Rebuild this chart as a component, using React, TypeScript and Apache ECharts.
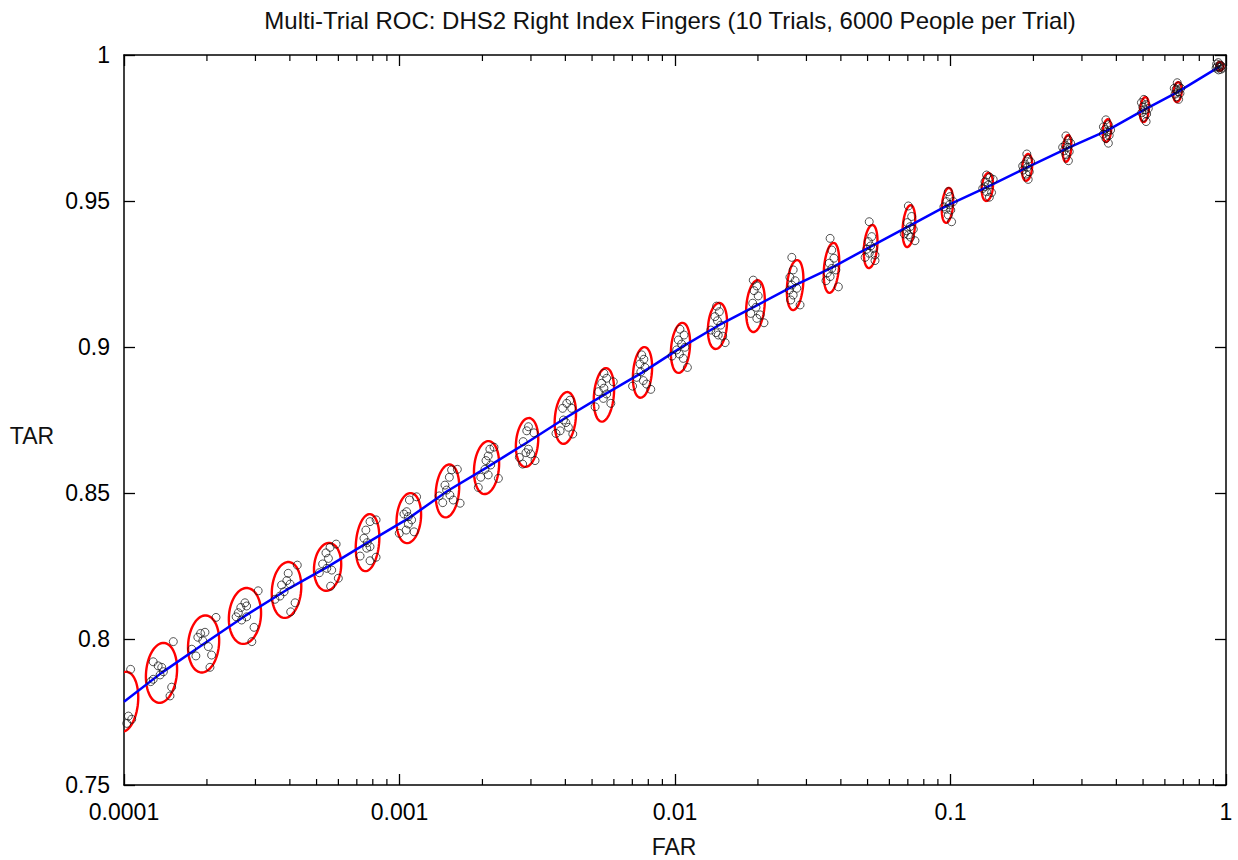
import React, { useEffect, useRef } from "react";
import * as echarts from "echarts";

const chartTitle = "Multi-Trial ROC: DHS2 Right Index Fingers (10 Trials, 6000 People per Trial)";
const xAxisName = "FAR";
const yAxisName = "TAR";
const xTickLabels = ["0.0001", "0.001", "0.01", "0.1", "1"];
const yTickLabels = ["0.75", "0.8", "0.85", "0.9", "0.95", "1"];

// mean operating point per threshold level (ellipse centre, blue ROC)
const meanFar = [0.0001, 0.0001368, 0.0001945, 0.0002748, 0.000389, 0.0005483, 0.0007656, 0.001081, 0.001493, 0.00207,
  0.002904, 0.003999, 0.005521, 0.007621, 0.01047, 0.01426, 0.01959, 0.02729, 0.03698, 0.05129,
  0.07063, 0.0975, 0.1361, 0.1897, 0.2649, 0.3698, 0.5058, 0.6668, 0.9506];
const meanTar = [0.7785, 0.7884, 0.7983, 0.8079, 0.8168, 0.8247, 0.833, 0.8414, 0.8507, 0.8587,
  0.8673, 0.8757, 0.8836, 0.8913, 0.8997, 0.9072, 0.914, 0.9212, 0.9271, 0.9344,
  0.9414, 0.9485, 0.9548, 0.9615, 0.968, 0.9741, 0.9813, 0.9873, 0.9961];
// ellipse half axes: FAR in decades, TAR in rate units
const ellipseHalfWidthDecades = [0.051, 0.056, 0.056, 0.058, 0.053, 0.049, 0.042, 0.044, 0.042, 0.045,
  0.04, 0.038, 0.036, 0.034, 0.034, 0.034, 0.033, 0.029, 0.027, 0.024,
  0.022, 0.02, 0.02, 0.018, 0.015, 0.015, 0.016, 0.015, 0.013];
const ellipseHalfHeightTar = [0.0103, 0.0103, 0.0098, 0.0096, 0.0096, 0.0082, 0.0098, 0.0086, 0.0091, 0.0091,
  0.0084, 0.0089, 0.0092, 0.0087, 0.0086, 0.0079, 0.0089, 0.0086, 0.0086, 0.0074,
  0.0072, 0.006, 0.0048, 0.0046, 0.0046, 0.0039, 0.0043, 0.0034, 0.0015];

// individual trial points (10 trials per level): log10(FAR) and TAR
const trialLog10Far: number[][] = [
  [-3.976, -3.99, -3.972, -3.984, -4.022, -4.015, -4.033, -4.011, -4.025, -4.044],
  [-3.894, -3.876, -3.863, -3.857, -3.869, -3.894, -3.903, -3.827, -3.833, -3.821],
  [-3.722, -3.706, -3.732, -3.714, -3.754, -3.739, -3.694, -3.682, -3.688, -3.666],
  [-3.561, -3.576, -3.555, -3.585, -3.593, -3.555, -3.573, -3.528, -3.536, -3.513],
  [-3.404, -3.409, -3.428, -3.397, -3.434, -3.452, -3.379, -3.395, -3.371, -3.419],
  [-3.252, -3.267, -3.258, -3.279, -3.264, -3.246, -3.291, -3.222, -3.25, -3.23],
  [-3.107, -3.122, -3.085, -3.129, -3.117, -3.107, -3.143, -3.107, -3.085, -3.119],
  [-2.964, -2.938, -2.974, -2.984, -2.968, -2.968, -2.947, -3.001, -2.976, -2.956],
  [-2.811, -2.819, -2.835, -2.829, -2.817, -2.805, -2.843, -2.78, -2.79, -2.856],
  [-2.672, -2.678, -2.686, -2.669, -2.69, -2.678, -2.714, -2.641, -2.705, -2.657],
  [-2.532, -2.538, -2.512, -2.551, -2.532, -2.541, -2.524, -2.565, -2.508, -2.553],
  [-2.393, -2.381, -2.408, -2.375, -2.405, -2.396, -2.417, -2.432, -2.371, -2.387],
  [-2.258, -2.248, -2.266, -2.258, -2.278, -2.248, -2.26, -2.29, -2.233, -2.224],
  [-2.121, -2.113, -2.127, -2.109, -2.124, -2.139, -2.115, -2.154, -2.088, -2.103],
  [-1.982, -1.967, -1.988, -1.976, -1.964, -1.994, -1.984, -1.97, -2.011, -1.955],
  [-1.849, -1.839, -1.855, -1.846, -1.834, -1.87, -1.851, -1.827, -1.818, -1.843],
  [-1.716, -1.703, -1.713, -1.698, -1.718, -1.706, -1.725, -1.691, -1.703, -1.677],
  [-1.576, -1.571, -1.583, -1.564, -1.576, -1.585, -1.558, -1.571, -1.546, -1.58],
  [-1.437, -1.431, -1.423, -1.44, -1.431, -1.447, -1.416, -1.437, -1.407, -1.452],
  [-1.295, -1.286, -1.298, -1.29, -1.304, -1.28, -1.295, -1.274, -1.274, -1.31],
  [-1.153, -1.141, -1.157, -1.147, -1.159, -1.135, -1.153, -1.168, -1.129, -1.145],
  [-1.008, -1.002, -1.014, -1.004, -1.016, -0.999, -1.008, -0.996, -1.024, -0.99],
  [-0.869, -0.857, -0.875, -0.863, -0.883, -0.869, -0.851, -0.859, -0.875, -0.845],
  [-0.723, -0.718, -0.73, -0.721, -0.736, -0.714, -0.726, -0.718, -0.738, -0.709],
  [-0.581, -0.572, -0.584, -0.575, -0.588, -0.569, -0.581, -0.572, -0.593, -0.564],
  [-0.436, -0.427, -0.439, -0.431, -0.445, -0.424, -0.436, -0.427, -0.445, -0.419],
  [-0.298, -0.29, -0.302, -0.294, -0.306, -0.288, -0.298, -0.29, -0.307, -0.282],
  [-0.177, -0.172, -0.181, -0.174, -0.185, -0.167, -0.179, -0.172, -0.188, -0.164],
  [-0.028, -0.022, -0.032, -0.024, -0.016, -0.034, -0.019, -0.027, -0.012, -0.036],
];
const trialTar: number[][] = [
  [0.7896, 0.7711, 0.7725, 0.7736, 0.786, 0.7818, 0.7791, 0.7764, 0.775, 0.7695],
  [0.7922, 0.7908, 0.7903, 0.7888, 0.7877, 0.7862, 0.7854, 0.7835, 0.7805, 0.7991],
  [0.8019, 0.8023, 0.8006, 0.7994, 0.7965, 0.7942, 0.7974, 0.7945, 0.7903, 0.8074],
  [0.8124, 0.8108, 0.8113, 0.809, 0.8076, 0.8076, 0.8065, 0.804, 0.7991, 0.8165],
  [0.8225, 0.82, 0.8185, 0.8188, 0.8147, 0.8136, 0.8124, 0.8093, 0.8253, 0.8162],
  [0.8314, 0.8295, 0.8276, 0.8257, 0.8242, 0.8236, 0.8227, 0.8208, 0.8181, 0.8325],
  [0.8402, 0.8373, 0.8408, 0.8345, 0.833, 0.8316, 0.8284, 0.8268, 0.828, 0.8311],
  [0.8476, 0.8487, 0.8436, 0.8428, 0.8419, 0.8394, 0.8367, 0.8362, 0.8373, 0.8408],
  [0.8579, 0.8554, 0.8527, 0.851, 0.8493, 0.8476, 0.8467, 0.8465, 0.8581, 0.849],
  [0.865, 0.8627, 0.8611, 0.8596, 0.8581, 0.8562, 0.8519, 0.855, 0.8554, 0.8657],
  [0.8727, 0.8713, 0.8706, 0.8676, 0.865, 0.8638, 0.8634, 0.8622, 0.8611, 0.8599],
  [0.8807, 0.8818, 0.879, 0.879, 0.875, 0.8741, 0.8713, 0.8704, 0.8702, 0.8725],
  [0.891, 0.8893, 0.8876, 0.8859, 0.8847, 0.8839, 0.8824, 0.8795, 0.8807, 0.8881],
  [0.8973, 0.8958, 0.8942, 0.893, 0.8915, 0.8896, 0.8885, 0.8866, 0.8855, 0.8873],
  [0.9061, 0.9041, 0.9024, 0.901, 0.8999, 0.899, 0.8976, 0.8961, 0.8969, 0.893],
  [0.914, 0.9121, 0.9104, 0.909, 0.9075, 0.9058, 0.9049, 0.9037, 0.9015, 0.9041],
  [0.9229, 0.9209, 0.9193, 0.9175, 0.915, 0.9136, 0.9115, 0.911, 0.9098, 0.9083],
  [0.9307, 0.9264, 0.9239, 0.9227, 0.9212, 0.9195, 0.9201, 0.9178, 0.9144, 0.9161],
  [0.9372, 0.9332, 0.9304, 0.9287, 0.9269, 0.9254, 0.9264, 0.9241, 0.9206, 0.9227],
  [0.9429, 0.9378, 0.9361, 0.9346, 0.9335, 0.9337, 0.9321, 0.9315, 0.9296, 0.9307],
  [0.9483, 0.9447, 0.9426, 0.9412, 0.9398, 0.9403, 0.9384, 0.9387, 0.9364, 0.9376],
  [0.9532, 0.9515, 0.9498, 0.9487, 0.9472, 0.9469, 0.9452, 0.9429, 0.948, 0.9498],
  [0.9589, 0.9581, 0.9566, 0.9555, 0.9543, 0.9532, 0.9529, 0.9513, 0.9549, 0.9574],
  [0.9661, 0.9643, 0.9627, 0.9615, 0.9606, 0.96, 0.9592, 0.9574, 0.962, 0.9634],
  [0.9723, 0.9709, 0.9692, 0.9684, 0.9672, 0.9669, 0.9658, 0.9638, 0.9684, 0.9698],
  [0.9778, 0.9761, 0.9745, 0.9737, 0.9729, 0.9725, 0.9714, 0.9698, 0.9754, 0.9743],
  [0.9848, 0.983, 0.9822, 0.9812, 0.9802, 0.9798, 0.9787, 0.9772, 0.9837, 0.9817],
  [0.9905, 0.9894, 0.9883, 0.9874, 0.9866, 0.9869, 0.9857, 0.9848, 0.9886, 0.9886],
  [0.9974, 0.9966, 0.996, 0.9958, 0.9962, 0.9969, 0.9951, 0.9949, 0.9955, 0.9955],
];

const minorTickFar = [
  0.0002, 0.0003, 0.0004, 0.0005, 0.0006, 0.0007, 0.0008, 0.0009,
  0.002, 0.003, 0.004, 0.005, 0.006, 0.007, 0.008, 0.009,
  0.02, 0.03, 0.04, 0.05, 0.06, 0.07, 0.08, 0.09,
  0.2, 0.3, 0.4, 0.5, 0.6, 0.7, 0.8, 0.9,
];

const FONT = "'Liberation Sans', Arial, Helvetica, sans-serif";

export default function App() {
  const ref = useRef<HTMLDivElement>(null);

  useEffect(() => {
    if (!ref.current) return;
    const chart = echarts.init(ref.current, undefined, { renderer: "svg" });

    const ellipseData = meanFar.map((f, i) => [f, meanTar[i], ellipseHalfWidthDecades[i], ellipseHalfHeightTar[i]]);
    const lineData = meanFar.map((f, i) => [f, meanTar[i]]);
    const pointData: number[][] = [];
    trialLog10Far.forEach((row, i) => {
      row.forEach((lf, j) => pointData.push([Math.pow(10, lf), trialTar[i][j]]));
    });

    const axisLine = { show: true, onZero: false, lineStyle: { color: "#000", width: 1.5 } };
    const xLabelFmt = (v: number) => {
      const e = Math.round(Math.log10(v));
      return xTickLabels[e + 4] ?? "";
    };
    const yLabelFmt = (v: number) => {
      const i = Math.round((v - 0.75) / 0.05);
      return yTickLabels[i] ?? "";
    };

    const option: any = {
      animation: false,
      backgroundColor: "#fff",
      textStyle: { fontFamily: FONT },
      grid: { left: 124, right: 12, top: 55, bottom: 75, containLabel: false },
      xAxis: [
        {
          type: "log", logBase: 10, min: 0.0001, max: 1, position: "bottom",
          axisLine,
          axisTick: { show: true, inside: true, length: 11, lineStyle: { color: "#000", width: 1.3 } },
          axisLabel: { show: true, formatter: xLabelFmt, fontSize: 23, color: "#000", margin: 15, fontFamily: FONT },
          splitLine: { show: false },
        },
        {
          type: "log", logBase: 10, min: 0.0001, max: 1, position: "top",
          axisLine,
          axisTick: { show: true, inside: true, length: 11, lineStyle: { color: "#000", width: 1.3 } },
          axisLabel: { show: false },
          splitLine: { show: false },
        },
      ],
      yAxis: [
        {
          type: "value", min: 0.75, max: 1, interval: 0.05, position: "left",
          axisLine,
          axisTick: { show: true, inside: true, length: 11, lineStyle: { color: "#000", width: 1.3 } },
          axisLabel: { show: true, formatter: yLabelFmt, fontSize: 23, color: "#000", margin: 14, fontFamily: FONT },
          splitLine: { show: false },
        },
        {
          type: "value", min: 0.75, max: 1, interval: 0.05, position: "right",
          axisLine,
          axisTick: { show: true, inside: true, length: 11, lineStyle: { color: "#000", width: 1.3 } },
          axisLabel: { show: false },
          splitLine: { show: false },
        },
      ],
      graphic: [
        { type: "text", x: 670, y: 20, style: { text: chartTitle, fontSize: 24, fill: "#111", fontFamily: FONT, align: "center", verticalAlign: "middle" } },
        { type: "text", x: 674, y: 847, style: { text: xAxisName, fontSize: 23, fill: "#111", fontFamily: FONT, align: "center", verticalAlign: "middle" } },
        { type: "text", x: 32, y: 436, style: { text: yAxisName, fontSize: 23, fill: "#111", fontFamily: FONT, align: "center", verticalAlign: "middle" } },
      ],
      series: [
        {
          type: "custom",
          name: "minor ticks",
          xAxisIndex: 0, yAxisIndex: 0,
          silent: true,
          data: minorTickFar.map((v) => [v, 0.75]),
          renderItem: (params: any, api: any) => {
            const cs = params.coordSys;
            const p = api.coord([api.value(0), api.value(1)]);
            const st = { stroke: "#000", lineWidth: 1.2 };
            return {
              type: "group",
              children: [
                { type: "line", shape: { x1: p[0], y1: cs.y + cs.height, x2: p[0], y2: cs.y + cs.height - 6 }, style: st },
                { type: "line", shape: { x1: p[0], y1: cs.y, x2: p[0], y2: cs.y + 6 }, style: st },
              ],
            };
          },
          z: 5,
        },
        {
          type: "custom",
          name: "confidence ellipses",
          xAxisIndex: 0, yAxisIndex: 0,
          clip: true,
          silent: true,
          data: ellipseData,
          renderItem: (params: any, api: any) => {
            const f = api.value(0), t = api.value(1), w = api.value(2), h = api.value(3);
            const c = api.coord([f, t]);
            const r = api.coord([f * Math.pow(10, w), t]);
            const tp = api.coord([f, t + h]);
            const rx = r[0] - c[0];
            const ry = c[1] - tp[1];
            const phi = 0.09;
            const pts: number[][] = [];
            const n = 64;
            for (let k = 0; k < n; k++) {
              const a = (k / n) * Math.PI * 2;
              const u = rx * Math.cos(a);
              const v = ry * Math.sin(a);
              pts.push([c[0] + u * Math.cos(phi) - v * Math.sin(phi), c[1] + u * Math.sin(phi) + v * Math.cos(phi)]);
            }
            return { type: "polygon", shape: { points: pts }, style: { fill: "none", stroke: "#ff0000", lineWidth: 2.4 } };
          },
          z: 2,
        },
        {
          type: "line",
          name: "ROC",
          xAxisIndex: 0, yAxisIndex: 0,
          data: lineData,
          showSymbol: false,
          symbol: "none",
          clip: true,
          lineStyle: { color: "#0000ff", width: 2.5 },
          z: 3,
        },
        {
          type: "scatter",
          name: "trials",
          xAxisIndex: 0, yAxisIndex: 0,
          data: pointData,
          clip: true,
          symbol: "circle",
          symbolSize: 8,
          itemStyle: { color: "rgba(0,0,0,0)", borderColor: "#111", borderWidth: 0.9 },
          z: 4,
        },
      ],
    };

    chart.setOption(option);
    return () => chart.dispose();
  }, []);

  return <div ref={ref} style={{ position: "fixed", left: 0, top: 0, width: 1238, height: 860, background: "#fff" }} />;
}
